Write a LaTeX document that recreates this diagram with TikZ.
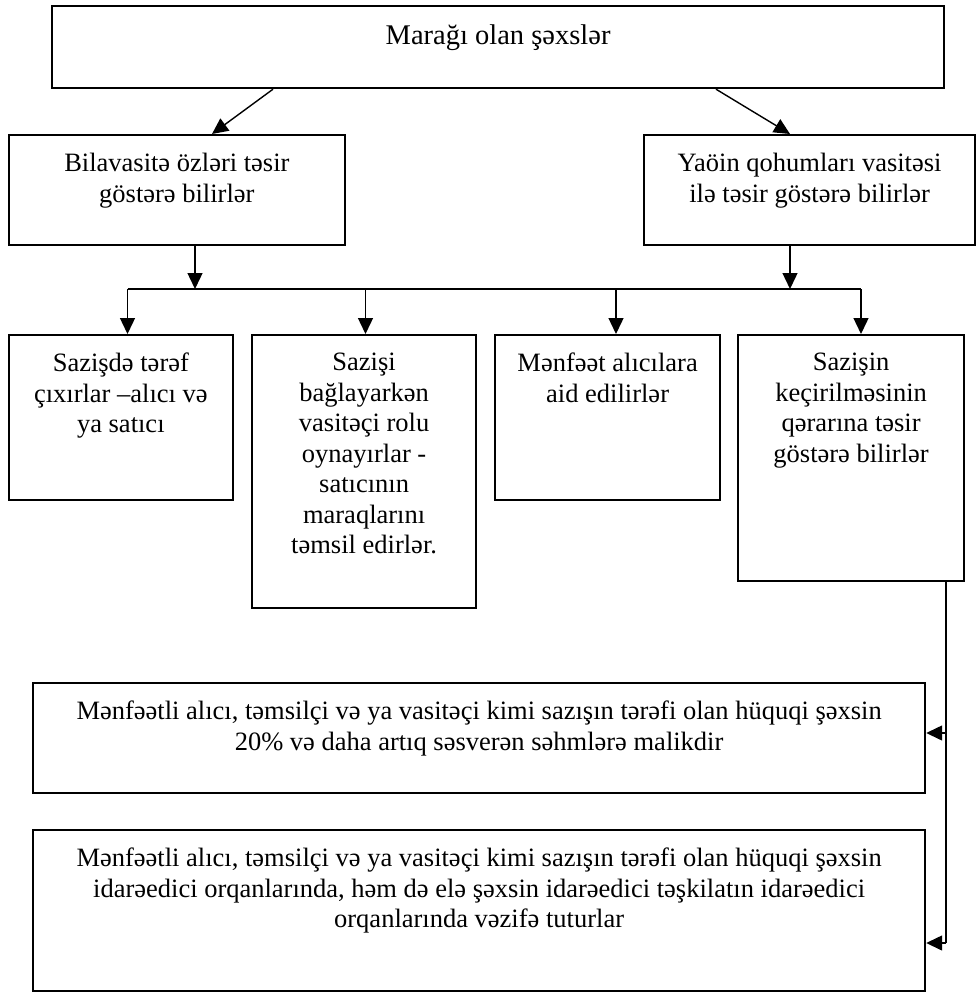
\documentclass[tikz,border=0pt]{standalone}
\usepackage{fontspec}
\setmainfont{Liberation Serif}
\usetikzlibrary{arrows.meta}
\begin{document}
\begin{tikzpicture}[x=1pt,y=-1pt,
  box/.style={draw, line width=2.2pt, inner sep=0pt, anchor=north west},
  txt/.style={inner sep=0pt, anchor=north, align=center,
    font=\fontsize{26.5}{30.5}\selectfont},
  ttl/.style={inner sep=0pt, anchor=north, align=center,
    font=\fontsize{28.5}{32}\selectfont},
  link/.style={line width=1.4pt},
  arr/.style={line width=1.4pt, -{Triangle[length=16pt,width=15pt]}}]
\useasboundingbox (0,0) rectangle (976,992);

% boxes
\node[box, minimum width=892pt, minimum height=82pt]  (top) at (51,5) {};
\node[box, minimum width=336.5pt, minimum height=110pt] (b1) at (7.5,134) {};
\node[box, minimum width=331pt, minimum height=110pt] (b2) at (643,134) {};
\node[box, minimum width=224.5pt, minimum height=165pt] (c1) at (7.5,334) {};
\node[box, minimum width=224pt, minimum height=273pt] (c2) at (251,334) {};
\node[box, minimum width=225pt, minimum height=165pt] (c3) at (494,334) {};
\node[box, minimum width=226pt, minimum height=246pt] (c4) at (737,334) {};
\node[box, minimum width=892pt, minimum height=110pt] (d1) at (32,682) {};
\node[box, minimum width=892pt, minimum height=161pt] (d2) at (32,829) {};

% texts
\node[ttl] (ttop) at ([yshift=-20pt]top.north) {Marağı olan şəxslər};
\node[txt] (tb1) at ([yshift=-19pt]b1.north) {Bilavasitə özləri təsir\\göstərə bilirlər};
\node[txt] (tb2) at ([yshift=-19pt]b2.north) {Yaöin qohumları vasitəsi\\ilə təsir göstərə bilirlər};
\node[txt] (tc1) at ([yshift=-19pt]c1.north) {Sazişdə tərəf\\çıxırlar –alıcı və\\ya satıcı};
\node[txt] (tc2) at ([yshift=-19pt]c2.north) {Sazişi\\bağlayarkən\\vasitəçi rolu\\oynayırlar -\\satıcının\\maraqlarını\\təmsil edirlər.};
\node[txt] (tc3) at ([yshift=-19pt]c3.north) {Mənfəət alıcılara\\aid edilirlər};
\node[txt] (tc4) at ([yshift=-19pt]c4.north) {Sazişin\\keçirilməsinin\\qərarına təsir\\göstərə bilirlər};
\node[txt] (td1) at ([yshift=-19pt]d1.north) {Mənfəətli alıcı, təmsilçi və ya vasitəçi kimi sazışın tərəfi olan hüquqi şəxsin\\20\% və daha artıq səsverən səhmlərə malikdir};
\node[txt] (td2) at ([yshift=-19pt]d2.north) {Mənfəətli alıcı, təmsilçi və ya vasitəçi kimi sazışın tərəfi olan hüquqi şəxsin\\idarəedici orqanlarında, həm də elə şəxsin idarəedici təşkilatın idarəedici\\orqanlarında vəzifə tuturlar};

% top level split
\draw[arr] ([xshift=222pt]top.south west) -- ([xshift=204.5pt]b1.north west);
\draw[arr] ([xshift=665pt]top.south west) -- ([xshift=147pt]b2.north west);

% distribution bus
\coordinate (busL) at (127.5,289);
\coordinate (busA) at (365.5,289);
\coordinate (busB) at (616,289);
\coordinate (busR) at (861,289);
\draw[link] (busL) -- (busR);
\coordinate (b1out) at ([xshift=187.5pt]b1.south west);
\coordinate (b2out) at ([xshift=147pt]b2.south west);
\draw[arr] (b1out) -- (b1out |- busL);
\draw[arr] (b2out) -- (b2out |- busL);
\draw[arr] (busL) -- (busL |- c1.north);
\draw[arr] (busA) -- (busA |- c2.north);
\draw[arr] (busB) -- (busB |- c3.north);
\draw[arr] (busR) -- (busR |- c4.north);

% side feed to the lower boxes
\coordinate (c4out) at ([xshift=209pt]c4.south west);
\coordinate (j1) at (946,733);
\coordinate (j2) at (946,943);
\draw[link] (c4out) -- (j2);
\draw[arr] (j1) -- (j1 -| d1.east);
\draw[arr] (j2) -- (j2 -| d2.east);
\end{tikzpicture}
\end{document}
